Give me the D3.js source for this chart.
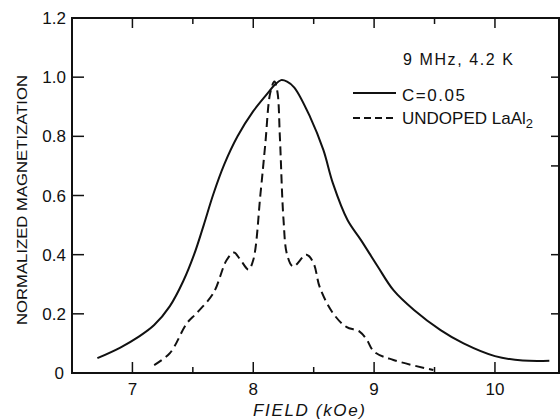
<!DOCTYPE html>
<html><head><meta charset="utf-8">
<script src="https://cdn.jsdelivr.net/npm/d3@7"></script>
<style>
body{margin:0;background:#fff;}
svg{display:block;}
text{font-family:"Liberation Sans",Arial,sans-serif;fill:#111;}
</style></head>
<body><svg id="c" width="560" height="419"></svg>
<script>
// Data
const solidField = [6.71,6.90,7.05,7.18,7.31,7.42,7.51,7.59,7.67,7.76,7.87,8.00,8.12,8.18,8.23,8.28,8.34,8.47,8.58,8.66,8.78,8.89,9.03,9.16,9.33,9.55,9.74,10.0,10.23,10.45];
const solidValue = [0.05,0.086,0.122,0.162,0.226,0.31,0.40,0.50,0.605,0.705,0.80,0.885,0.946,0.975,0.99,0.985,0.965,0.866,0.754,0.64,0.517,0.45,0.36,0.28,0.213,0.145,0.10,0.057,0.042,0.041];
const dashedField = [7.18,7.31,7.45,7.53,7.67,7.78,7.84,7.89,7.96,8.00,8.06,8.10,8.14,8.175,8.20,8.22,8.25,8.28,8.33,8.44,8.50,8.55,8.66,8.77,8.88,8.94,9.0,9.16,9.49];
const dashedValue = [0.027,0.067,0.168,0.202,0.27,0.382,0.407,0.385,0.35,0.382,0.607,0.776,0.946,0.985,0.95,0.80,0.52,0.40,0.36,0.40,0.37,0.29,0.202,0.156,0.14,0.112,0.072,0.044,0.01];
const xMajorTicks = [7,8,9,10];
const xMinorTicks = [7.5,8.5,9.5];
const yTicks = [0,0.2,0.4,0.6,0.8,1.0,1.2];
const yTickLabels = ["0","0.2","0.4","0.6","0.8","1.0","1.2"];
const rightTicks = [0.2,0.4,0.7,0.8,1.0];
const legendLabels = ["C=0.05","UNDOPED LaAl"];
const conditionLabel = "9 MHz, 4.2 K";
const xTitle = "FIELD (kOe)";
const yTitle = "NORMALIZED MAGNETIZATION";

const svg = d3.select("#c");
const x = d3.scaleLinear().domain([6.5,10.53]).range([72,559]);
const y = d3.scaleLinear().domain([0,1.2]).range([373,18]);
const stroke = "#111";

const g = svg.append("g");
g.append("rect").attr("x",x(6.5)).attr("y",y(1.2)).attr("width",x(10.53)-x(6.5)).attr("height",y(0)-y(1.2))
 .attr("fill","none").attr("stroke",stroke).attr("stroke-width",2);

xMajorTicks.forEach(t=>{
  g.append("line").attr("x1",x(t)).attr("x2",x(t)).attr("y1",y(0)).attr("y2",y(0)-11).attr("stroke",stroke).attr("stroke-width",1.5);
  g.append("line").attr("x1",x(t)).attr("x2",x(t)).attr("y1",y(1.2)).attr("y2",y(1.2)+10).attr("stroke",stroke).attr("stroke-width",1.5);
  g.append("text").attr("x",x(t)).attr("y",395).attr("text-anchor","middle").attr("font-size",17).text(t);
});
xMinorTicks.forEach(t=>{
  g.append("line").attr("x1",x(t)).attr("x2",x(t)).attr("y1",y(0)).attr("y2",y(0)-6).attr("stroke",stroke).attr("stroke-width",1.5);
  g.append("line").attr("x1",x(t)).attr("x2",x(t)).attr("y1",y(1.2)).attr("y2",y(1.2)+6).attr("stroke",stroke).attr("stroke-width",1.5);
});
yTicks.forEach((t,i)=>{
  if(t>0 && t<1.2) g.append("line").attr("x1",x(6.5)).attr("x2",x(6.5)+12).attr("y1",y(t)).attr("y2",y(t)).attr("stroke",stroke).attr("stroke-width",1.5);
  g.append("text").attr("x",t===0?64:66).attr("y",y(t)).attr("dy","0.36em").attr("text-anchor","end").attr("font-size",17).text(yTickLabels[i]);
});
rightTicks.forEach(t=>{
  g.append("line").attr("x1",x(10.53)).attr("x2",x(10.53)-8).attr("y1",y(t)).attr("y2",y(t)).attr("stroke",stroke).attr("stroke-width",1.5);
});

g.append("text").attr("x",309).attr("y",416).attr("text-anchor","middle").attr("font-size",17)
 .attr("font-style","italic").attr("textLength",112).attr("lengthAdjust","spacing").text(xTitle);
g.append("text").attr("transform","translate(27,200) rotate(-90)").attr("text-anchor","middle").attr("font-size",15)
 .attr("textLength",250).attr("lengthAdjust","spacingAndGlyphs").text(yTitle);

const line = d3.line().x(d=>x(d[0])).y(d=>y(d[1])).curve(d3.curveCatmullRom.alpha(0.5));
g.append("path").datum(solidField.map((f,i)=>[f,solidValue[i]])).attr("d",line)
 .attr("fill","none").attr("stroke",stroke).attr("stroke-width",2);
g.append("path").datum(dashedField.map((f,i)=>[f,dashedValue[i]])).attr("d",line)
 .attr("fill","none").attr("stroke",stroke).attr("stroke-width",2).attr("stroke-dasharray","9,5");

g.append("text").attr("x",403).attr("y",65).attr("font-size",16).attr("textLength",110).attr("lengthAdjust","spacing").text(conditionLabel);
g.append("line").attr("x1",353).attr("x2",396).attr("y1",93).attr("y2",93).attr("stroke",stroke).attr("stroke-width",2);
g.append("text").attr("x",402).attr("y",101).attr("font-size",17).attr("textLength",63).attr("lengthAdjust","spacing").text(legendLabels[0]);
g.append("line").attr("x1",353).attr("x2",396).attr("y1",118).attr("y2",118).attr("stroke",stroke).attr("stroke-width",2).attr("stroke-dasharray","7,4");
const t2 = g.append("text").attr("x",402).attr("y",124).attr("font-size",17);
t2.append("tspan").text(legendLabels[1]);
t2.append("tspan").attr("dy",4).attr("font-size",13).text("2");
</script></body></html>
